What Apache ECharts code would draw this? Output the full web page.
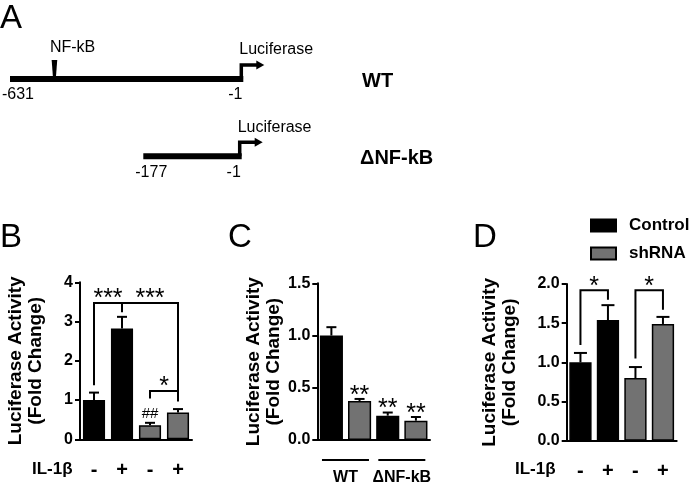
<!DOCTYPE html>
<html><head><meta charset="utf-8">
<script src="https://cdn.jsdelivr.net/npm/echarts@6/dist/echarts.min.js"></script>
<style>html,body{margin:0;padding:0;background:#fff}#c{width:693px;height:488px}</style>
</head><body><div id="c"></div><script>
// ---------- Panel A: promoter constructs ----------
const wtConstruct = [-631, -1];
const deltaConstruct = [-177, -1];
const nfkbSite = [-511];
// ---------- Panel B ----------
const bTreat = ['-', '+', '-', '+'];
const bGroup = ['Control', 'Control', 'shRNA', 'shRNA'];
const bMeans = [1.0, 2.82, 0.36, 0.68];
const bErr = [0.19, 0.30, 0.06, 0.09];
const bMarks = ['', '', '##', ''];
const bBrackets = [[0, 1, 3.47, 1.38, 3.24], [1, 3, 3.47, 3.25, 1.0], [2, 3, 1.23, 1.04, 0.96]];
const bBracketLabels = ['***', '***', '*'];
// ---------- Panel C ----------
const cCats = ['WT-Control', 'WT-shRNA', 'dNF-Control', 'dNF-shRNA'];
const cGroup = ['Control', 'shRNA', 'Control', 'shRNA'];
const cMeans = [1.0, 0.373, 0.233, 0.185];
const cErr = [0.08, 0.02, 0.03, 0.035];
const cMarks = ['', '**', '**', '**'];
const cConstructRanges = [[0, 1], [2, 3]];
const cConstructLabels = ['WT', '\u0394NF-kB'];
// ---------- Panel D ----------
const dTreat = ['-', '+', '-', '+'];
const dGroup = ['Control', 'Control', 'shRNA', 'shRNA'];
const dMeans = [1.0, 1.54, 0.80, 1.49];
const dErr = [0.12, 0.19, 0.14, 0.09];
const dBrackets = [[0, 1, 1.92, 1.22, 1.80], [2, 3, 1.92, 1.05, 1.67]];
const dBracketLabels = ['*', '*'];
const groupNames = ['Control', 'shRNA'];

const FONT = 'Liberation Sans, Arial, sans-serif';
const COLORS = { Control: '#000000', shRNA: '#727272' };

const chart = echarts.init(document.getElementById('c'), null, { renderer: 'canvas' });

function constructRender(params, api) {
  const s = api.coord([api.value(0), 0.5]);
  const e = api.coord([api.value(1), 0.5]);
  const y = s[1];
  return { type: 'group', children: [
    { type: 'rect', shape: { x: s[0], y: y - 3, width: e[0] - s[0], height: 6 }, style: { fill: '#000' } },
    { type: 'polyline', shape: { points: [[e[0] - 2, y], [e[0] - 2, y - 14], [e[0] + 15, y - 14]] }, style: { stroke: '#000', lineWidth: 3.5, fill: null } },
    { type: 'polygon', shape: { points: [[e[0] + 13, y - 18.5], [e[0] + 21, y - 14], [e[0] + 13, y - 9.5]] }, style: { fill: '#000' } },
    { type: 'text', style: { text: 'Luciferase', x: e[0] - 4, y: y - 29, align: 'left', verticalAlign: 'middle', font: '16px ' + FONT, fill: '#000' } },
    { type: 'text', style: { text: String(api.value(0)), x: s[0] + 8, y: y + 16, align: 'center', verticalAlign: 'middle', font: '16px ' + FONT, fill: '#000' } },
    { type: 'text', style: { text: String(api.value(1)), x: e[0] - 8, y: y + 16, align: 'center', verticalAlign: 'middle', font: '16px ' + FONT, fill: '#000' } }
  ] };
}
function siteRender(params, api) {
  const p = api.coord([api.value(0), 0.5]);
  const x = p[0], y = p[1];
  return { type: 'group', children: [
    { type: 'polygon', shape: { points: [[x - 2.8, y - 19], [x + 2.8, y - 19], [x + 1.5, y - 2], [x - 1.5, y - 2]] }, style: { fill: '#000' } },
    { type: 'text', style: { text: 'NF-kB', x: x - 4.5, y: y - 31, align: 'left', verticalAlign: 'middle', font: '16px ' + FONT, fill: '#000' } }
  ] };
}
function errRender(marks, capHalf) {
  return function (params, api) {
    const c = api.value(0), m = api.value(1), e = api.value(2);
    const p0 = api.coord([c, m]);
    const p1 = api.coord([c, m + e]);
    const ch = [
      { type: 'line', shape: { x1: p0[0], y1: p0[1], x2: p1[0], y2: p1[1] }, style: { stroke: '#000', lineWidth: 2 } },
      { type: 'line', shape: { x1: p1[0] - capHalf, y1: p1[1], x2: p1[0] + capHalf, y2: p1[1] }, style: { stroke: '#000', lineWidth: 2 } }
    ];
    const mk = marks ? marks[params.dataIndex] : '';
    if (mk) {
      const star = mk.indexOf('*') >= 0;
      ch.push({ type: 'text', style: { text: mk, x: p1[0], y: star ? p1[1] - 3 : p1[1] - 9, align: 'center', verticalAlign: 'middle', font: (star ? '25px ' : '15px ') + FONT, fill: '#000' } });
    }
    return { type: 'group', children: ch };
  };
}
function bracketRender(labels) {
  return function (params, api) {
    const f = api.value(0), t = api.value(1), top = api.value(2), lb = api.value(3), rb = api.value(4);
    const a = api.coord([f, lb]), b = api.coord([f, top]), c = api.coord([t, top]), d = api.coord([t, rb]);
    return { type: 'group', children: [
      { type: 'polyline', shape: { points: [a, b, c, d] }, style: { stroke: '#000', lineWidth: 2, fill: null } },
      { type: 'text', style: { text: labels[params.dataIndex], x: (b[0] + c[0]) / 2, y: b[1] - 3.5, align: 'center', verticalAlign: 'middle', font: '25px ' + FONT, fill: '#000' } }
    ] };
  };
}
function groupRender(params, api) {
  const p0 = api.coord([api.value(0), 0]);
  const p1 = api.coord([api.value(1), 0]);
  const mid = (p0[0] + p1[0]) / 2;
  return { type: 'group', children: [
    { type: 'line', shape: { x1: mid - 23.5, y1: p0[1] + 20, x2: mid + 23.5, y2: p0[1] + 20 }, style: { stroke: '#000', lineWidth: 2 } },
    { type: 'text', style: { text: cConstructLabels[params.dataIndex], x: mid, y: p0[1] + 38, align: 'center', verticalAlign: 'middle', font: 'bold 16px ' + FONT, fill: '#000' } }
  ] };
}

const axisStyle = { lineStyle: { color: '#000', width: 2 } };
function catAxis(grid, cats, showLabels) {
  return { type: 'category', gridIndex: grid, data: cats, boundaryGap: true,
    axisLine: axisStyle, axisTick: { alignWithLabel: true, length: 6, lineStyle: { color: '#000', width: 2 } },
    axisLabel: { show: showLabels, color: '#000', fontWeight: 'bold', fontSize: 20, fontFamily: FONT, margin: 21 } };
}
function valAxis(grid, max, interval, dec, gap) {
  return { type: 'value', gridIndex: grid, min: 0, max: max, interval: interval,
    name: 'Luciferase Activity\n(Fold Change)', nameLocation: 'middle', nameRotate: 90, nameGap: gap,
    nameTextStyle: { color: '#000', fontWeight: 'bold', fontSize: 19, fontFamily: FONT, lineHeight: 20 },
    axisLine: { show: true, lineStyle: { color: '#000', width: 2 } },
    axisTick: { show: true, length: 5, lineStyle: { color: '#000', width: 2 } },
    splitLine: { show: false },
    axisLabel: { color: '#000', fontWeight: 'bold', fontSize: 16, fontFamily: FONT, margin: 7, formatter: v => v.toFixed(dec) } };
}
function hiddenVal(grid, min, max) {
  return { type: 'value', gridIndex: grid, min: min, max: max, show: false, splitLine: { show: false } };
}
const barStyle = g => ({ color: COLORS[g], borderColor: '#000', borderWidth: 1.5 });

const option = {
  animation: false,
  backgroundColor: '#fff',
  textStyle: { fontFamily: FONT },
  legend: { data: groupNames, orient: 'vertical', left: 590, top: 217, padding: 0, itemWidth: 25, itemHeight: 12, itemGap: 11,
    icon: 'rect', textStyle: { color: '#000', fontWeight: 'bold', fontSize: 17, fontFamily: FONT, padding: [0, 0, 0, 8] } },
  grid: [
    { left: 10, top: 69, width: 233.3, height: 20 },
    { left: 143.3, top: 146.3, width: 98.4, height: 20 },
    { left: 80, top: 282.3, width: 112, height: 157 },
    { left: 317.3, top: 283.3, width: 112.7, height: 156.7 },
    { left: 566.7, top: 284, width: 110, height: 156.7 }
  ],
  xAxis: [
    hiddenVal(0, wtConstruct[0], wtConstruct[1]),
    hiddenVal(1, deltaConstruct[0], deltaConstruct[1]),
    catAxis(2, bTreat, true),
    catAxis(3, cCats, false),
    catAxis(4, dTreat, true)
  ],
  yAxis: [
    hiddenVal(0, 0, 1),
    hiddenVal(1, 0, 1),
    valAxis(2, 4, 1, 0, 34),
    valAxis(3, 1.5, 0.5, 1, 33),
    valAxis(4, 2, 0.5, 1, 47)
  ],
  graphic: [
    { type: 'text', left: 0, top: 2, style: { text: 'A', font: '33px ' + FONT, fill: '#000' } },
    { type: 'text', left: 0, top: 221, style: { text: 'B', font: '33px ' + FONT, fill: '#000' } },
    { type: 'text', left: 228, top: 221, style: { text: 'C', font: '33px ' + FONT, fill: '#000' } },
    { type: 'text', left: 473, top: 221, style: { text: 'D', font: '33px ' + FONT, fill: '#000' } },
    { type: 'text', left: 362, top: 71, style: { text: 'WT', font: 'bold 20px ' + FONT, fill: '#000' } },
    { type: 'text', left: 360, top: 148, style: { text: '\u0394NF-kB', font: 'bold 20px ' + FONT, fill: '#000' } },
    { type: 'text', left: 32, top: 461, style: { text: 'IL-1\u03b2', font: 'bold 17px ' + FONT, fill: '#000' } },
    { type: 'text', left: 515, top: 461, style: { text: 'IL-1\u03b2', font: 'bold 17px ' + FONT, fill: '#000' } }
  ],
  series: [
    { type: 'custom', xAxisIndex: 0, yAxisIndex: 0, clip: false, renderItem: constructRender, data: [[wtConstruct[0], wtConstruct[1]]] },
    { type: 'custom', xAxisIndex: 0, yAxisIndex: 0, clip: false, renderItem: siteRender, data: nfkbSite.map(v => [v]) },
    { type: 'custom', xAxisIndex: 1, yAxisIndex: 1, clip: false, renderItem: constructRender, data: [[deltaConstruct[0], deltaConstruct[1]]] },
    // B
    { name: 'B', type: 'bar', xAxisIndex: 2, yAxisIndex: 2, barWidth: '79%',
      data: bMeans.map((v, i) => ({ value: v, itemStyle: barStyle(bGroup[i]) })) },
    { type: 'custom', xAxisIndex: 2, yAxisIndex: 2, clip: false, renderItem: errRender(bMarks, 5), data: bMeans.map((v, i) => [i, v, bErr[i]]) },
    { type: 'custom', xAxisIndex: 2, yAxisIndex: 2, clip: false, renderItem: bracketRender(bBracketLabels), data: bBrackets },
    // C
    { name: 'C', type: 'bar', xAxisIndex: 3, yAxisIndex: 3, barWidth: '82%',
      data: cMeans.map((v, i) => ({ value: v, itemStyle: barStyle(cGroup[i]) })) },
    { type: 'custom', xAxisIndex: 3, yAxisIndex: 3, clip: false, renderItem: errRender(cMarks, 5), data: cMeans.map((v, i) => [i, v, cErr[i]]) },
    { type: 'custom', xAxisIndex: 3, yAxisIndex: 3, clip: false, renderItem: groupRender, data: cConstructRanges },
    // D
    { name: 'Control', type: 'bar', xAxisIndex: 4, yAxisIndex: 4, barWidth: '81%', barGap: '-100%',
      itemStyle: barStyle('Control'), data: dMeans.map((v, i) => dGroup[i] === 'Control' ? v : '-') },
    { name: 'shRNA', type: 'bar', xAxisIndex: 4, yAxisIndex: 4, barWidth: '81%', barGap: '-100%',
      itemStyle: barStyle('shRNA'), data: dMeans.map((v, i) => dGroup[i] === 'shRNA' ? v : '-') },
    { type: 'custom', xAxisIndex: 4, yAxisIndex: 4, clip: false, renderItem: errRender(null, 6.5), data: dMeans.map((v, i) => [i, v, dErr[i]]) },
    { type: 'custom', xAxisIndex: 4, yAxisIndex: 4, clip: false, renderItem: bracketRender(dBracketLabels), data: dBrackets }
  ]
};
chart.setOption(option);
</script></body></html>
